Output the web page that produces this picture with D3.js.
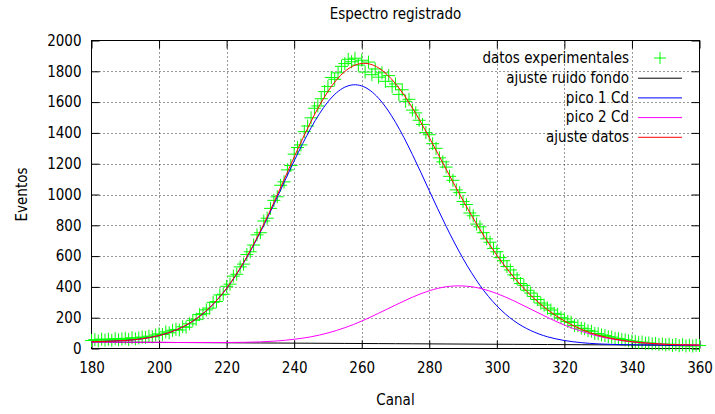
<!DOCTYPE html>
<html>
  <head>
    <meta charset="utf-8">
    <title>Espectro registrado</title>
    <script src="https://d3js.org/d3.v7.min.js"></script>
    <style>
      body { margin: 0; background: #fff; }
      text { font-family: "DejaVu Sans Condensed", "DejaVu Sans", sans-serif; font-stretch: condensed; font-size: 15px; fill: #000; }
    </style>
  </head>

  <body>
    <script>
      var canales = [
        180,181,182,183,184,185,186,187,188,189,190,191,192,193,194,195,196,197,198,199,
        200,201,202,203,204,205,206,207,208,209,210,211,212,213,214,215,216,217,218,219,
        220,221,222,223,224,225,226,227,228,229,230,231,232,233,234,235,236,237,238,239,
        240,241,242,243,244,245,246,247,248,249,250,251,252,253,254,255,256,257,258,259,
        260,261,262,263,264,265,266,267,268,269,270,271,272,273,274,275,276,277,278,279,
        280,281,282,283,284,285,286,287,288,289,290,291,292,293,294,295,296,297,298,299,
        300,301,302,303,304,305,306,307,308,309,310,311,312,313,314,315,316,317,318,319,
        320,321,322,323,324,325,326,327,328,329,330,331,332,333,334,335,336,337,338,339,
        340,341,342,343,344,345,346,347,348,349,350,351,352,353,354,355,356,357,358,359,360];
      var eventos = [
        52,58,49,61,55,60,53,64,57,62,66,58,70,63,68,74,71,80,76,88,
        95,91,108,102,118,124,120,141,138,160,183,190,220,226,251,262,300,305,348,352,
        404,418,470,482,530,548,610,628,672,738,752,828,846,910,962,985,1060,1082,1160,1188,
        1262,1305,1322,1408,1445,1498,1560,1575,1622,1668,1702,1760,1748,1790,1832,1850,1878,1862,1885,1840,
        1872,1795,1860,1778,1815,1762,1790,1735,1772,1700,1718,1650,1680,1605,1618,1548,1530,1482,1455,1402,
        1388,1330,1300,1238,1212,1178,1118,1092,1030,1012,955,935,880,862,808,790,752,712,690,650,
        628,590,570,532,510,478,455,422,410,378,360,338,318,295,282,262,250,228,222,200,
        192,176,170,150,148,132,128,116,112,98,96,88,84,76,74,66,64,58,56,50,
        48,45,38,42,34,36,30,33,26,29,24,28,20,26,18,25,17,22,16,21,19];

      // curvas del ajuste, leidas cada 5 canales
      var canalesAjuste = [180,185,190,195,200,205,210,215,220,225,230,235,240,245,250,255,260,265,270,
        275,280,285,290,295,300,305,310,315,320,325,330,335,340,345,350,355,360];
      var ruidoFondo = [42,41.4,40.8,40.2,39.6,39,38.4,37.8,37.2,36.6,36,35.4,34.8,34.2,33.6,33,32.4,31.8,31.2,
        30.6,30,29.4,28.8,28.2,27.6,27,26.4,25.8,25.2,24.6,24,23.4,22.8,22.2,21.6,21,20.4];
      var pico1 = [44,47,52,63,84,120,177,265,390,554,756,983,1218,1433,1602,1697,1705,1625,1469,
        1260,1025,793,584,410,277,181,117,76,52,38,30,26,24,23,22,21,20];
      var pico2 = [42,41,41,40,40,39,39,39,39,40,43,49,60,76,101,135,178,229,282,
        333,375,401,406,391,357,310,256,202,152,112,80,58,43,33,27,24,22];
      var ajusteDatos = [44,47,52,63,84,120,178,266,391,558,763,997,1243,1475,1669,1799,1851,1822,1720,
        1562,1370,1164,961,773,606,464,346,252,179,125,86,61,44,34,27,24,22];

      var ticksX = [180,200,220,240,260,280,300,320,340,360];
      var ticksY = [0,200,400,600,800,1000,1200,1400,1600,1800,2000];

      var series = [
        {nombre: "ajuste ruido fondo", valores: ruidoFondo, color: "#000000"},
        {nombre: "pico 1 Cd", valores: pico1, color: "#0000ff"},
        {nombre: "pico 2 Cd", valores: pico2, color: "#ff00ff"},
        {nombre: "ajuste datos", valores: ajusteDatos, color: "#ff0000"}
      ];

      var width = 715, height = 414;
      var pLeft = 91.5, pRight = 699.5, pTop = 40.5, pBottom = 348.5;

      var svg = d3.select("body")
        .append("svg")
          .attr("width", width)
          .attr("height", height);

      var x = d3.scaleLinear().domain([180, 360]).range([pLeft, pRight]);
      var y = d3.scaleLinear().domain([0, 2000]).range([pBottom, pTop]);

      // rejilla punteada
      var grid = svg.append("g").attr("stroke", "#000").attr("stroke-width", 1)
          .attr("stroke-dasharray", "1,3").attr("opacity", 0.8);
      grid.selectAll("line.gx")
        .data(ticksX.slice(1, -1))
        .enter().append("line")
          .attr("class", "gx")
          .attr("x1", d => Math.round(x(d)) + 0.5).attr("x2", d => Math.round(x(d)) + 0.5)
          .attr("y1", pTop).attr("y2", pBottom);
      grid.selectAll("line.gy")
        .data(ticksY.slice(1, -1))
        .enter().append("line")
          .attr("class", "gy")
          .attr("y1", d => Math.round(y(d)) + 0.5).attr("y2", d => Math.round(y(d)) + 0.5)
          .attr("x1", pLeft).attr("x2", pRight);

      // ejes con marcas hacia dentro en los cuatro lados
      var fmt = d3.format("d");
      var axB = svg.append("g").attr("transform", "translate(0," + pBottom + ")")
        .call(d3.axisBottom(x).tickValues(ticksX).tickFormat(fmt).tickSizeInner(-8).tickSizeOuter(0).tickPadding(14));
      var axT = svg.append("g").attr("transform", "translate(0," + pTop + ")")
        .call(d3.axisTop(x).tickValues(ticksX).tickSizeInner(-8).tickSizeOuter(0).tickFormat(""));
      var axL = svg.append("g").attr("transform", "translate(" + pLeft + ",0)")
        .call(d3.axisLeft(y).tickValues(ticksY).tickFormat(fmt).tickSizeInner(-8).tickSizeOuter(0).tickPadding(10));
      var axR = svg.append("g").attr("transform", "translate(" + pRight + ",0)")
        .call(d3.axisRight(y).tickValues(ticksY).tickSizeInner(-8).tickSizeOuter(0).tickFormat(""));
      [axB, axT, axL, axR].forEach(function(a) {
        a.select(".domain").remove();
        a.attr("font-size", null).attr("font-family", null);
        a.selectAll(".tick line").attr("stroke", "#000");
      });

      svg.append("rect")
          .attr("x", pLeft).attr("y", pTop)
          .attr("width", pRight - pLeft).attr("height", pBottom - pTop)
          .attr("fill", "none").attr("stroke", "#000").attr("stroke-width", 1);

      // datos experimentales
      var cruz = 6.5;
      var puntos = svg.append("g").attr("stroke", "#00ff00").attr("stroke-width", 1).attr("fill", "none");
      puntos.selectAll("path")
        .data(canales)
        .enter().append("path")
          .attr("d", (d, i) => {
            var px = x(d), py = y(eventos[i]);
            return "M" + (px - cruz) + "," + py + "H" + (px + cruz) + "M" + px + "," + (py - cruz) + "V" + (py + cruz);
          });

      // curvas
      var linea = d3.line()
        .x((d, i) => x(canalesAjuste[i]))
        .y(d => y(d))
        .curve(d3.curveNatural);
      svg.append("g").selectAll("path")
        .data(series)
        .enter().append("path")
          .attr("d", d => linea(d.valores))
          .attr("fill", "none")
          .attr("stroke", d => d.color)
          .attr("stroke-width", 1);

      // leyenda
      var legX = 629, legY = 58, legDy = 19.7;
      var leyenda = svg.append("g");
      var filas = [{nombre: "datos experimentales", color: "#00ff00", cruz: true}].concat(series);
      filas.forEach(function(f, i) {
        var yy = legY + i * legDy;
        leyenda.append("text")
          .attr("x", legX).attr("y", yy).attr("dy", "0.35em")
          .attr("text-anchor", "end").text(f.nombre);
        if (f.cruz) {
          leyenda.append("path")
            .attr("d", "M" + (660 - 6) + "," + yy + "H" + (660 + 6) + "M660," + (yy - 6) + "V" + (yy + 6))
            .attr("stroke", f.color).attr("fill", "none");
        } else {
          leyenda.append("line")
            .attr("x1", 638).attr("x2", 682).attr("y1", yy + 0.5).attr("y2", yy + 0.5)
            .attr("stroke", f.color).attr("stroke-width", 1);
        }
      });

      // titulos
      svg.append("text")
          .attr("x", (pLeft + pRight) / 2).attr("y", 19)
          .attr("text-anchor", "middle").text("Espectro registrado");
      svg.append("text")
          .attr("x", (pLeft + pRight) / 2).attr("y", 405)
          .attr("text-anchor", "middle").text("Canal");
      svg.append("text")
          .attr("transform", "translate(27," + ((pTop + pBottom) / 2) + ") rotate(-90)")
          .attr("text-anchor", "middle").text("Eventos");
    </script>
  </body>
</html>
